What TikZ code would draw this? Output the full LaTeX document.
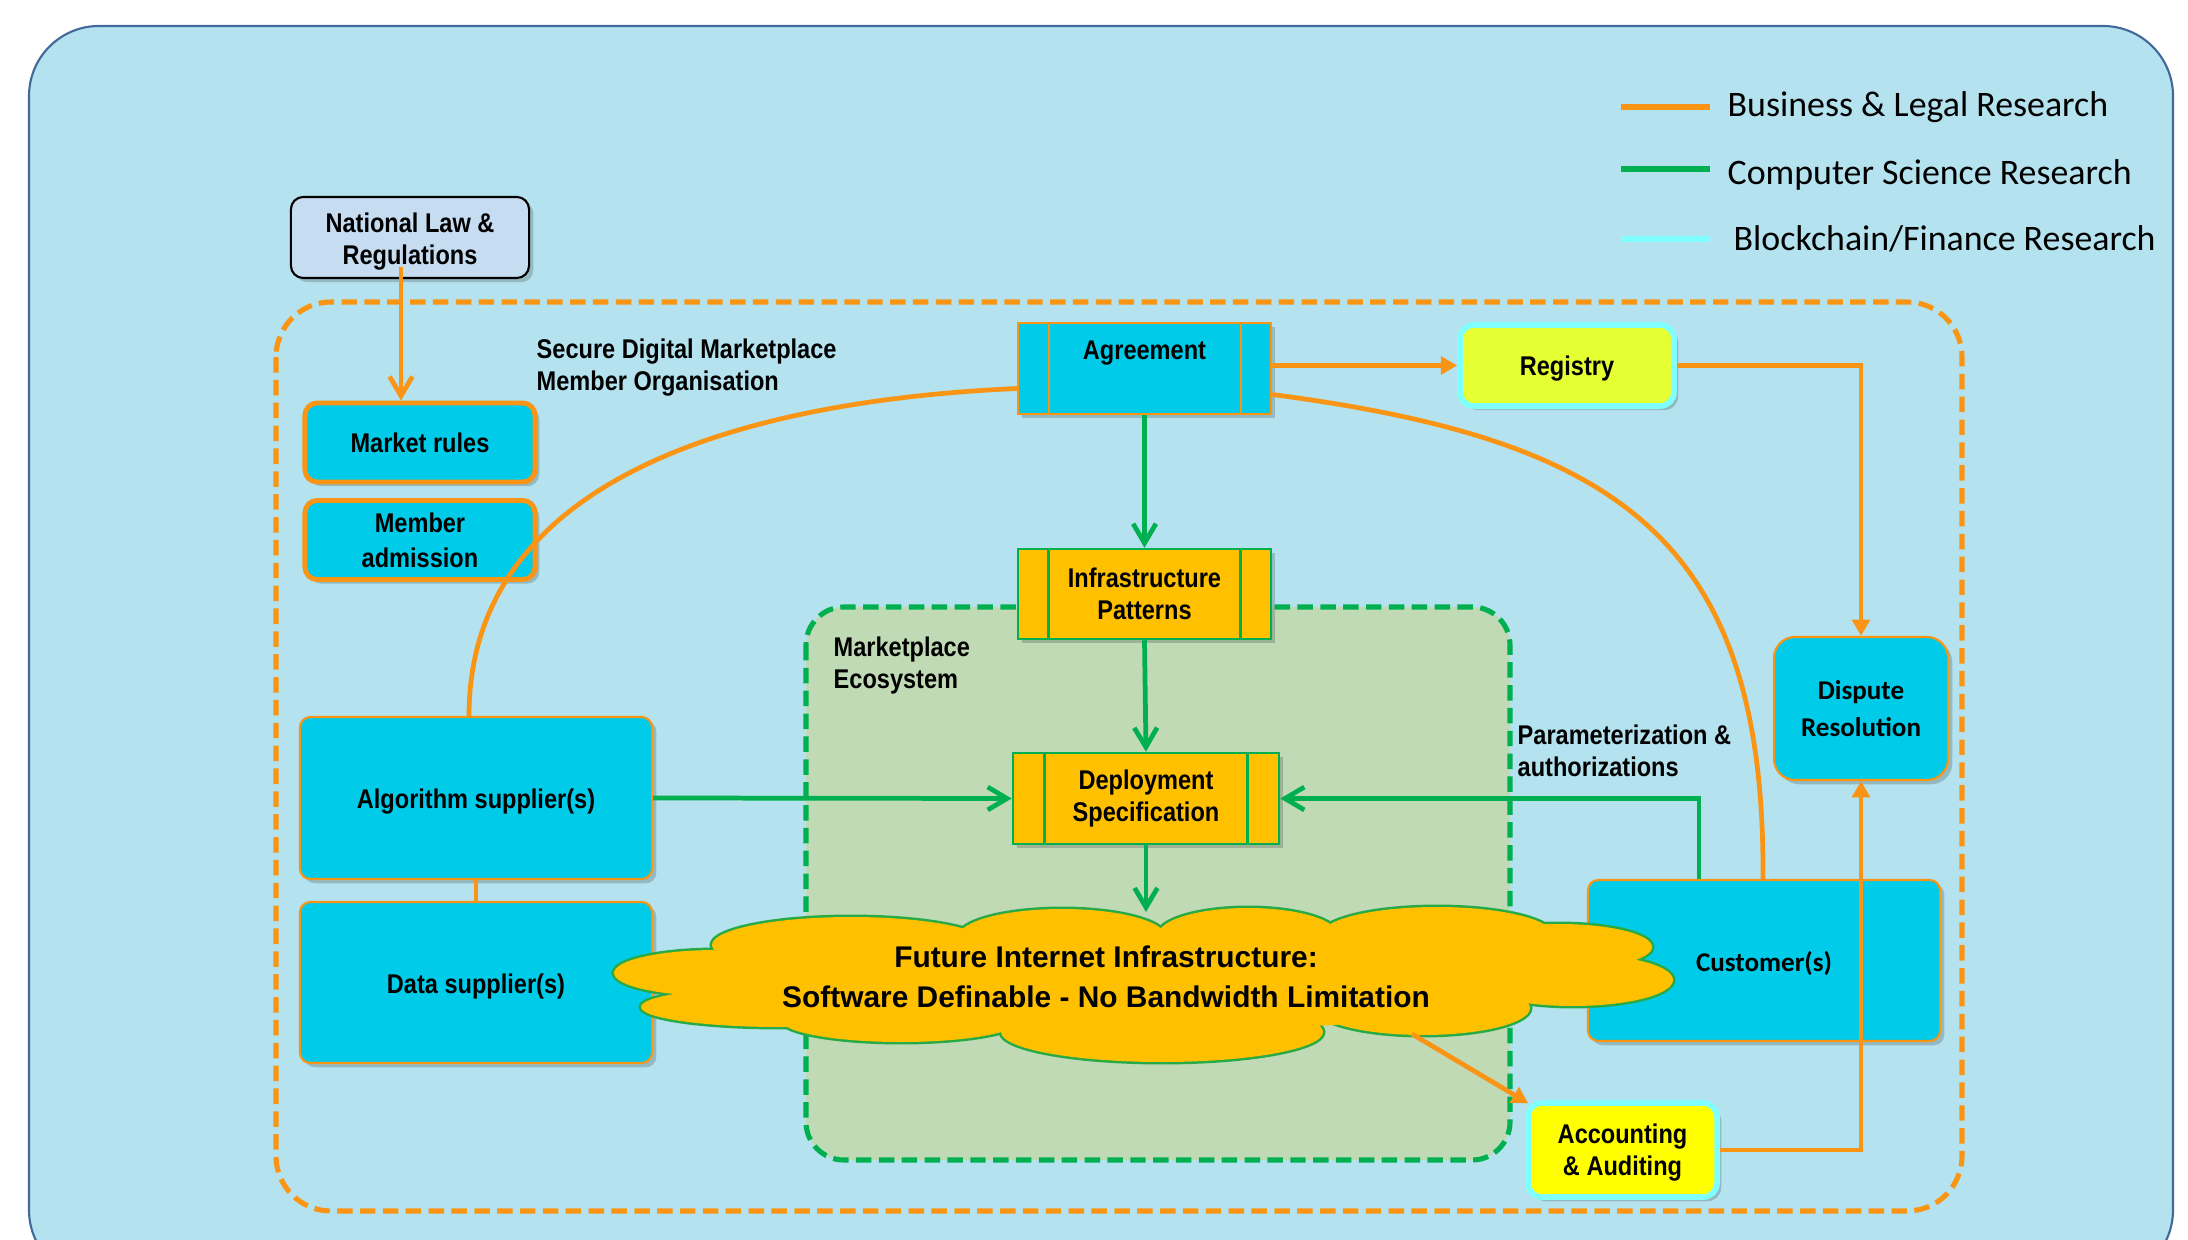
\documentclass[tikz,border=0pt]{standalone}
\usepackage{fontspec}
\setmainfont{Liberation Sans}
\newfontfamily\narfont[FakeStretch=0.87]{Liberation Sans}
\newfontfamily\calfont{Carlito}
\usetikzlibrary{arrows.meta,calc,shadows}
\definecolor{bgblue}{RGB}{180,226,238}
\definecolor{bgline}{RGB}{65,105,155}
\definecolor{boxcyan}{RGB}{0,204,234}
\definecolor{myorange}{RGB}{250,148,20}
\definecolor{mygreen}{RGB}{0,176,80}
\definecolor{gold}{RGB}{255,192,0}
\definecolor{lime}{RGB}{229,255,51}
\definecolor{yel}{RGB}{255,255,0}
\definecolor{aqua}{RGB}{128,255,255}
\definecolor{ecofill}{RGB}{192,218,181}
\definecolor{lawfill}{RGB}{198,220,240}
\definecolor{cloudedge}{RGB}{40,170,70}
\begin{document}
\begin{tikzpicture}[x=0.01cm,y=-0.01cm,
  lbl/.style={font=\narfont\bfseries\fontsize{7.7}{9.1}\selectfont, align=center, inner sep=0pt, text=black},
  lblc/.style={font=\calfont\bfseries\fontsize{7.7}{10.6}\selectfont, align=center, inner sep=0pt, text=black},
  legtxt/.style={font=\calfont\fontsize{10.2}{12}\selectfont, inner sep=0pt, anchor=west},
  shad/.style={drop shadow={shadow xshift=1.2pt,shadow yshift=-1.2pt,opacity=0.18,fill=black}},
  cyanbox/.style={draw=myorange, fill=boxcyan, line width=0.6pt, rounded corners=3pt, shad},
  rulebox/.style={draw=myorange, fill=boxcyan, line width=1.4pt, rounded corners=3.5pt, shad},
  procbox/.style={draw=myorange, fill=boxcyan, line width=0.6pt, shad},
  goldbox/.style={draw=mygreen, fill=gold, line width=0.7pt, shad},
  aquabox/.style={draw=aqua, line width=1.6pt, rounded corners=4pt, shad},
  bl/.style={myorange, line width=1.35pt},
  cs/.style={mygreen, line width=1.35pt},
  barb/.style={-{Straight Barb[length=5.5pt,width=6.5pt]}},
  tri/.style={-{Triangle[length=4.6pt,width=5pt]}},
]
\useasboundingbox (0,0) rectangle (2188,1240);
\clip (0,0) rectangle (2188,1240);
\fill[white] (0,0) rectangle (2188,1240);
% outer background
\draw[bgline, fill=bgblue, line width=0.6pt, rounded corners=0.7cm] (29,26) rectangle (2173,1280);
% containers
\draw[myorange, line width=1.45pt, dash pattern=on 4.4pt off 2.1pt, rounded corners=0.55cm] (276,302) rectangle (1962,1211);
\draw[mygreen, fill=ecofill, line width=1.45pt, dash pattern=on 4.4pt off 2.1pt, rounded corners=0.38cm] (806,607) rectangle (1510,1160);

% free labels
\node[lbl, align=left, anchor=west] (sdm) at (536,368) {Secure Digital Marketplace\\Member Organisation};
\node[lbl, align=left, anchor=west] (eco) at (833,665) {Marketplace\\Ecosystem};
\node[lbl, align=left, anchor=west] (par) at (1517,751) {Parameterization \&\\authorizations};

% nodes
\node[draw=black, fill=lawfill, line width=0.6pt, rounded corners=3.5pt, shad, minimum width=2.38cm, minimum height=0.81cm,
      label={[lbl, yshift=-1.1pt]center:{National Law \&\\Regulations}}] (natlaw) at (410,237.5) {};
\node[rulebox, minimum width=2.30cm, minimum height=0.79cm, lbl] (mrules) at (420,442.5) {Market rules};
\node[rulebox, minimum width=2.30cm, minimum height=0.79cm, lbl, font=\narfont\bfseries\fontsize{7.7}{10}\selectfont] (madm) at (420,540) {Member\\admission};
\node[procbox, minimum width=2.53cm, minimum height=0.91cm] (agr) at (1144.5,368.5) {};
\node[lbl] (agrtxt) at ($(agr.north)+(0,31)$) {Agreement};
\node[aquabox, fill=lime, minimum width=2.14cm, minimum height=0.81cm,
      label={[lbl, yshift=-0.8pt]center:Registry}] (reg) at (1567,365.5) {};
\node[goldbox, minimum width=2.53cm, minimum height=0.90cm, lbl] (infra) at (1144.5,594) {Infrastructure\\Patterns};
\node[goldbox, minimum width=2.66cm, minimum height=0.91cm, lbl] (dep) at (1146,798.5) {Deployment\\Specification};
\node[cyanbox, minimum width=3.52cm, minimum height=1.62cm,
      label={[lbl, yshift=-1.1pt]center:Algorithm supplier(s)}] (alg) at (476,798) {};
\node[cyanbox, minimum width=3.52cm, minimum height=1.61cm,
      label={[lbl, yshift=-1.1pt]center:Data supplier(s)}] (data) at (476,982.5) {};
\node[cyanbox, minimum width=3.52cm, minimum height=1.61cm,
      label={[lblc, yshift=-0.8pt]center:Customer(s)}] (cust) at (1764,960.5) {};
\node[cyanbox, rounded corners=6pt, minimum width=1.74cm, minimum height=1.43cm, lblc] (disp) at (1861,708.5) {Dispute\\Resolution};
\node[aquabox, fill=yel, minimum width=1.89cm, minimum height=0.94cm,
      label={[lbl, yshift=-0.8pt]center:{Accounting\\\&\ Auditing}}] (acc) at (1622.5,1150) {};

% process-box inner bars
\draw[myorange, line width=0.6pt] ($(agr.north west)+(32,0)$) -- ($(agr.south west)+(32,0)$);
\draw[myorange, line width=0.6pt] ($(agr.north east)+(-31,0)$) -- ($(agr.south east)+(-31,0)$);
\draw[mygreen, line width=0.7pt] ($(infra.north west)+(32,0)$) -- ($(infra.south west)+(32,0)$);
\draw[mygreen, line width=0.7pt] ($(infra.north east)+(-32,0)$) -- ($(infra.south east)+(-32,0)$);
\draw[mygreen, line width=0.7pt] ($(dep.north west)+(33,0)$) -- ($(dep.south west)+(33,0)$);
\draw[mygreen, line width=0.7pt] ($(dep.north east)+(-33,0)$) -- ($(dep.south east)+(-33,0)$);

% curves
\draw[bl] ($(agr.west)+(0,20)$) .. controls (760,400) and (469,470) .. ($(alg.north)+(-7,0)$);
\draw[bl] ($(agr.east)+(0,26)$) .. controls (1620,440) and (1765,540) .. ($(cust.north)+(-1,0)$);

% connectors
\draw[bl, barb] ($(natlaw.south)+(-9,-12)$) -- ($(mrules.north)+(-19,0)$);
\draw[bl, tri] (agr.east |- reg.west) -- (reg.west);
\draw[bl, tri] (reg.east) -| (disp.north);
\draw[bl] (alg.south) -- (data.north);
\draw[cs, barb] (agr.south) -- (infra.north);
\draw[cs, barb] (infra.south) -- (dep.north);
\draw[cs, barb] (alg.east) -- (dep.west);
\draw[cs, barb] ($(cust.north)+(-65,0)$) |- (dep.east);
\draw[bl, tri] (acc.east) -| (disp.south);

% cloud
\foreach \cx/\cy/\rx/\ry in {716/973/102/23, 780/1007/139/20, 901/1020/120/22, 1162/1032/161/30, 1423/1008/107/27, 1573/980/100/26, 1559/947/93/23, 1437/935/116/28, 1248/935/90/27, 1062/937/104/28, 851/945/139/28}
  \draw[cloudedge, line width=1.4pt] (\cx,\cy) ellipse [x radius=\rx, y radius=\ry];
\foreach \cx/\cy/\rx/\ry in {716/973/102/23, 780/1007/139/20, 901/1020/120/22, 1162/1032/161/30, 1423/1008/107/27, 1573/980/100/26, 1559/947/93/23, 1437/935/116/28, 1248/935/90/27, 1062/937/104/28, 851/945/139/28, 1140/985/420/45}
  \fill[gold] (\cx,\cy) ellipse [x radius=\rx, y radius=\ry];
\coordinate (cloudtop) at (1146,912);
\coordinate (cloudacc) at (1412,1034);
\node[font=\bfseries\fontsize{8.5}{11.4}\selectfont, align=center, inner sep=0pt] (cloudtxt) at (1106,977) {Future Internet Infrastructure:\\Software Definable - No Bandwidth Limitation};
\draw[cs, barb] (dep.south) -- (cloudtop);
\draw[bl, tri] (cloudacc) -- ($(acc.north west)+(3,3)$);

% legend
\node[legtxt] (lg1) at (1727,107) {Business \& Legal Research};
\node[legtxt] (lg2) at (1727,175) {Computer Science Research};
\node[legtxt] (lg3) at (1733,239) {Blockchain/Finance Research};
\draw[myorange, line width=1.5pt] ($(lg1.west)+(-106,0)$) -- ($(lg1.west)+(-17,0)$);
\draw[mygreen, line width=1.5pt] ($(lg2.west)+(-106,-6)$) -- ($(lg2.west)+(-17,-6)$);
\draw[aqua, line width=1.7pt] ($(lg3.west)+(-112,0)$) -- ($(lg3.west)+(-23,0)$);
\end{tikzpicture}
\end{document}
